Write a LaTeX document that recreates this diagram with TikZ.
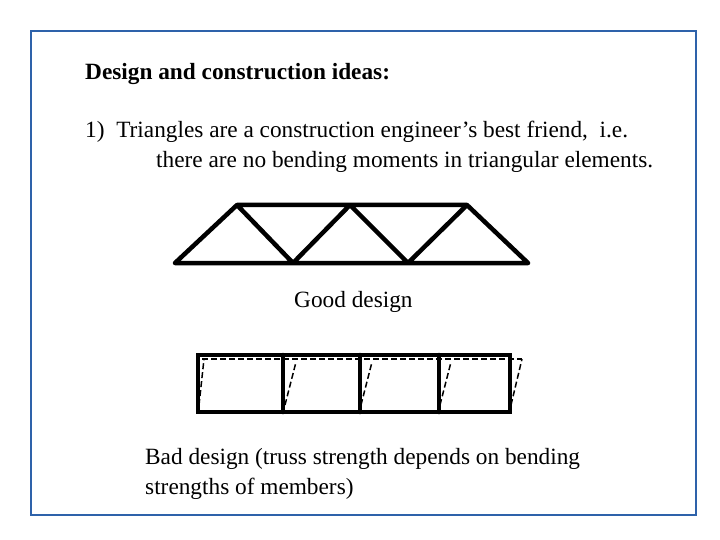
\documentclass[tikz,border=0pt]{standalone}
\usepackage{fontspec}
\setmainfont{Liberation Serif}
\begin{document}
\begin{tikzpicture}[x=1pt,y=-1pt,
  txt/.style={anchor=base west,inner sep=0,font=\fontsize{23.3}{27}\selectfont},
  member/.style={line width=4.5pt,line cap=round,line join=round},
  defl/.style={line width=1.5pt,dash pattern=on 6pt off 3pt}]
\useasboundingbox (0,0) rectangle (720,540);
\draw[line width=2.5pt,color={rgb,255:red,46;green,98;blue,170}] (31,31) rectangle (696,515);
\node[txt,font=\fontsize{23.3}{27}\selectfont\bfseries] (t1) at (85,80) {Design and construction ideas:};
\node[txt] (t2) at (85,138) {1)\ \ Triangles are a construction engineer’s best friend,\ \ i.e.};
\node[txt] (t3) at (156,168) {there are no bending moments in triangular elements.};
\node[txt] (t4) at (294,307) {Good design};
\node[txt] (t5) at (145,464) {Bad design (truss strength depends on bending};
\node[txt] (t6) at (145,494) {strengths of members)};
% good truss
\coordinate (b0) at (175,263); \coordinate (b1) at (293,263); \coordinate (b2) at (408,263); \coordinate (b3) at (528,263);
\coordinate (u0) at (237,205); \coordinate (u1) at (350,205); \coordinate (u2) at (467,205);
\draw[member] (b0) -- (b3) (u0) -- (u2) (b0) -- (u0) -- (b1) -- (u1) -- (b2) -- (u2) -- (b3);
% bad truss
\coordinate (p0) at (198,355); \coordinate (q0) at (198,412);
\coordinate (p1) at (283,355); \coordinate (q1) at (283,412);
\coordinate (p2) at (360,355); \coordinate (q2) at (360,412);
\coordinate (p3) at (439,355); \coordinate (q3) at (439,412);
\coordinate (p4) at (510,355); \coordinate (q4) at (510,412);
\draw[defl] (202,359) -- (522,359);
\draw[defl] (199,405) -- (204,359);
\draw[defl] (285,405) -- (296,362);
\draw[defl] (361,405) -- (372,362);
\draw[defl] (440,405) -- (451,362);
\draw[defl] (511,405) -- (522,359);
\draw[member,line cap=butt,line join=miter] (p0) rectangle (q4);
\draw[member] (p1) -- (q1) (p2) -- (q2) (p3) -- (q3);
\end{tikzpicture}
\end{document}
